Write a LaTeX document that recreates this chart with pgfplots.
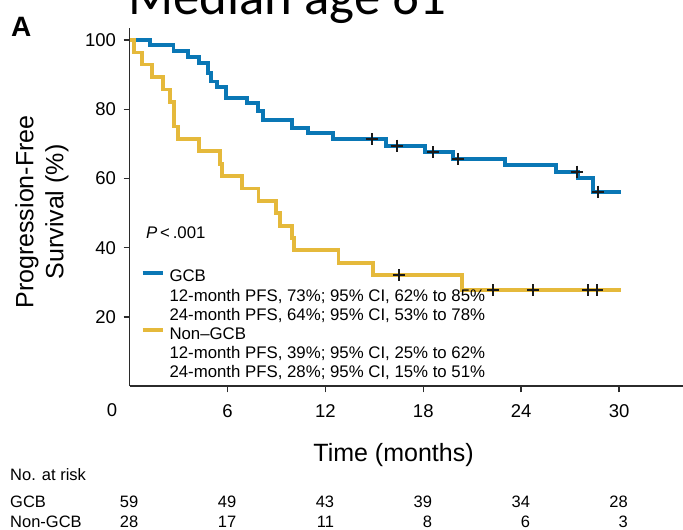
\documentclass[border=0pt]{standalone}
\usepackage{pgfplots}
\pgfplotsset{compat=1.18}
\usepackage{fontspec}
\setmainfont{Liberation Sans}
\newfontfamily\calibri{Carlito}

\definecolor{gcbblue}{HTML}{0A77B5}
\definecolor{ngcbgold}{HTML}{E5B93B}
\definecolor{axisgray}{HTML}{2B2B2B}
\definecolor{censor}{HTML}{1A1A1A}

% Kaplan-Meier step data: (time in months, PFS in %)
\pgfplotstableread{
t     s
0     100
1.26  98.6
2.69  96.9
3.56  95.2
4.26  93.3
4.83  90.4
5.00  88.0
5.34  86.5
5.91  83.2
7.18  81.9
7.89  79.5
8.20  76.9
9.94  74.5
10.96 73.1
12.45 71.3
15.70 69.5
18.10 67.6
19.80 65.7
23.00 63.9
26.13 62.0
27.50 60.1
28.42 56.2
30.10 56.2
}\gcbcurve

\pgfplotstableread{
t     s
14.84 71.3
16.37 69.5
18.60 67.6
20.14 65.7
27.40 62.0
28.73 56.2
}\gcbcens

\pgfplotstableread{
t     s
0     100
0.28  96.4
0.75  92.9
1.40  89.3
2.07  85.7
2.48  82.1
2.75  75.0
2.95  71.4
4.26  67.9
5.55  64.3
5.65  60.7
6.87  57.1
7.90  53.6
9.00  50.0
9.20  46.4
9.94  42.9
10.10 39.3
12.80 35.7
14.94 32.1
20.35 27.8
30.10 27.8
}\ngcbcurve

\pgfplotstableread{
t     s
16.50 32.1
22.30 27.8
24.74 27.8
28.10 27.8
28.62 27.8
}\ngcbcens

\begin{document}
\begin{tikzpicture}
\begin{axis}[
  at={(129.5bp,143.7bp)}, anchor=south west,
  scale only axis, width=554.9bp, height=358.4bp,
  xmin=0, xmax=34, ymin=0, ymax=103.5,
  axis x line*=bottom, axis y line*=left,
  axis line style={draw=axisgray, line width=1.7bp, -},
  xtick={6,12,18,24,30}, ytick={20,40,60,80,100},
  tick align=outside, major tick length=6bp,
  tick style={draw=axisgray, line width=1.4bp},
  ticklabel style={font=\fontsize{18.5bp}{20bp}\selectfont, text=black},
  xticklabel style={yshift=-9bp},
  yticklabel style={xshift=-4bp},
  /pgf/number format/assume math mode=true,
  clip=false,
  legend cell align=left,
  legend image code/.code={\draw[#1, line width=3.8bp] (0bp,5bp) -- (20bp,5bp);},
  legend style={draw=none, fill=none, inner sep=0pt, outer sep=0pt,
    at={(0.0202,0.3287)}, anchor=north west,
    font=\fontsize{16.8bp}{19bp}\selectfont,
    column sep=4bp, row sep=0pt,
    nodes={inner sep=1bp, text height=12.5bp, text depth=4.6bp}},
]
\addplot[const plot, gcbblue, line width=3.8bp] table[x=t, y=s] {\gcbcurve};
\addlegendentry{GCB}
\addlegendimage{empty legend}
\addlegendentry{12-month PFS, 73\%; 95\% CI, 62\% to 85\%}
\addlegendimage{empty legend}
\addlegendentry{24-month PFS, 64\%; 95\% CI, 53\% to 78\%}
\addplot[const plot, ngcbgold, line width=3.8bp] table[x=t, y=s] {\ngcbcurve};
\addlegendentry{Non--GCB}
\addlegendimage{empty legend}
\addlegendentry{12-month PFS, 39\%; 95\% CI, 25\% to 62\%}
\addlegendimage{empty legend}
\addlegendentry{24-month PFS, 28\%; 95\% CI, 15\% to 51\%}

% censored observations
\addplot[forget plot, only marks, mark=+, mark size=6bp, censor,
  mark options={line width=2bp}] table[x=t, y=s] {\gcbcens};
\addplot[forget plot, only marks, mark=+, mark size=6bp, censor,
  mark options={line width=2bp}] table[x=t, y=s] {\ngcbcens};
\end{axis}

% headings
\node[anchor=base west, inner sep=0pt, font=\calibri\fontsize{52.8bp}{60bp}\selectfont]
  at (128bp,515bp) {Median age 61};
\node[anchor=base west, inner sep=0pt, font=\bfseries\fontsize{28bp}{30bp}\selectfont]
  at (11bp,493bp) {A};

% axis titles
\node[rotate=90, align=center, inner sep=0pt, font=\fontsize{25bp}{30bp}\selectfont]
  at (42bp,318bp) {Progression-Free\\Survival (\%)};
\node[inner sep=0pt, font=\fontsize{25bp}{30bp}\selectfont]
  at (393.5bp,75bp) {Time (months)};
\node[inner sep=0pt, font=\fontsize{18.5bp}{20bp}\selectfont]
  at (112bp,120bp) {0};

% log-rank test
\node[anchor=west, inner sep=0pt, font=\fontsize{16.8bp}{19bp}\selectfont]
  at (146bp,297bp) {\textit{P}\,<\,.001};

% number at risk
\begin{scope}[every node/.style={inner sep=0pt, font=\fontsize{16.5bp}{18bp}\selectfont}]
\node[anchor=base west] at (10bp,49bp) {No. at risk};
\node[anchor=base west] at (10bp,23bp) {GCB};
\node[anchor=base west] at (10bp,3bp) {Non-GCB};
\foreach \xx/\a/\b in {138.5/59/28, 236.4/49/17, 334.3/43/11, 432.2/39/8, 530.2/34/6, 628/28/3}{
  \node[anchor=base east] at (\xx bp,23bp) {\a};
  \node[anchor=base east] at (\xx bp,3bp) {\b};
}
\end{scope}

\pgfresetboundingbox
\path[use as bounding box] (0,0) rectangle (683bp,530bp);
\end{tikzpicture}
\end{document}
